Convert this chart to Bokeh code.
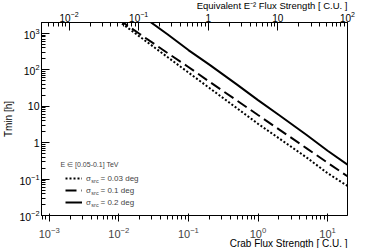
import numpy as np
from bokeh.plotting import figure
from bokeh.models import (Range1d, LogAxis, LogScale, LogTicker, LogTickFormatter,
                          Label, Legend, LegendItem, Title)
from bokeh.embed import file_html
from bokeh.resources import INLINE

# ---- data ----
flux_cu = [0.01, 0.02, 0.05, 0.1, 0.2, 0.5, 1, 2, 5, 10, 20]
tmin_sig003 = [2170, 818, 225, 84.7, 31.9, 8.8, 3.3, 1.32, 0.39, 0.145, 0.062]
tmin_sig01 = [2400, 968, 291, 120, 47.4, 14.3, 5.75, 2.32, 0.70, 0.28, 0.114]
tmin_sig02 = [8800, 3370, 950, 350, 139, 39.3, 14.8, 5.75, 1.62, 0.60, 0.238]

legend_title = "E \u2208 [0.05-0.1] TeV"
legend_values = ["= 0.03 deg", "= 0.1 deg", "= 0.2 deg"]
x_title = "Crab Flux Strength [ C.U. ]"
top_title = "Equivalent E\u207b\u00b2 Flux Strength [ C.U. ]"
y_title = "Tmin [h]"

x_lo, x_hi = 7.76e-4, 19.3
top_factor = 100 / 19.3
y_lo, y_hi = 0.01, 2000

FONT = "Liberation Sans"
W, H = 386, 248
ML, MR, MT, MB = 39, 39, 22, 29

p = figure(width=W, height=H, x_axis_type="log", y_axis_type="log",
           x_range=Range1d(x_lo, x_hi), y_range=Range1d(y_lo, y_hi),
           output_backend="svg", toolbar_location=None,
           min_border_left=ML, min_border_right=MR,
           min_border_top=MT, min_border_bottom=MB)
p.background_fill_color = "white"
p.border_fill_color = "white"
p.outline_line_color = "black"
p.outline_line_width = 1
p.xgrid.visible = False
p.ygrid.visible = False

p.extra_x_ranges = {"top": Range1d(x_lo * top_factor, x_hi * top_factor)}
p.extra_x_scales = {"top": LogScale()}
top_axis = LogAxis(x_range_name="top")
p.add_layout(top_axis, "above")

overrides = {1: "1", 10: "10"}
for ax in [p.xaxis[0], p.yaxis[0], top_axis]:
    ax.ticker = LogTicker(num_minor_ticks=10, desired_num_ticks=6)
    ax.formatter = LogTickFormatter()
    ax.major_label_overrides = overrides
    ax.major_tick_in = 8
    ax.major_tick_out = 0
    ax.minor_tick_in = 4
    ax.minor_tick_out = 0
    ax.axis_line_color = "black"
    ax.major_tick_line_color = "black"
    ax.minor_tick_line_color = "black"
    ax.major_label_text_font = FONT
    ax.major_label_text_font_size = "10.5px"
    ax.major_label_text_color = "black"
    ax.major_label_standoff = 2

top_axis.major_label_text_font_size = "10px"
top_axis.major_label_standoff = 0
p.xaxis[0].major_label_standoff = 1

p.yaxis[0].axis_label = y_title
p.yaxis[0].axis_label_text_font = FONT
p.yaxis[0].axis_label_text_font_style = "normal"
p.yaxis[0].axis_label_text_color = "black"
p.yaxis[0].axis_label_text_font_size = "10px"
p.yaxis[0].axis_label_standoff = 2

t_top = Title(text=top_title, align="right", text_font=FONT,
              text_font_size="9.5px", text_font_style="normal",
              text_color="black", standoff=0, offset=0,
              vertical_align="bottom")
t_bottom = Title(text=x_title, align="right", text_font=FONT,
                 text_font_size="10px", text_font_style="normal",
                 text_color="black", standoff=0, offset=0,
                 vertical_align="top")
try:
    t_top.standoff = -6
except Exception:
    pass
try:
    t_bottom.standoff = -5
except Exception:
    pass
p.add_layout(t_top, "above")
p.add_layout(t_bottom, "below")

r03 = p.line(flux_cu, tmin_sig003, line_color="black", line_width=2, line_dash="2 2")
r1 = p.line(flux_cu, tmin_sig01, line_color="black", line_width=2, line_dash="11 5")
r2 = p.line(flux_cu, tmin_sig02, line_color="black", line_width=2)

legend = Legend(items=[LegendItem(label="\u03c3", renderers=[r03]),
                       LegendItem(label="\u03c3", renderers=[r1]),
                       LegendItem(label="\u03c3", renderers=[r2])],
                location=(24, 7), padding=0, spacing=0, margin=0,
                glyph_width=17, glyph_height=12, label_height=12,
                label_standoff=4, label_text_font=FONT,
                label_text_font_size="8px",
                border_line_alpha=0, background_fill_alpha=0)
p.add_layout(legend)

rows_y = [37, 25, 13]
for yy, txt in zip(rows_y, legend_values):
    p.add_layout(Label(x=49.8, y=yy - 2.5, x_units="screen", y_units="screen",
                       text="src", text_font=FONT, text_font_size="5.5px",
                       text_baseline="middle", text_align="left"))
    p.add_layout(Label(x=59, y=yy, x_units="screen", y_units="screen",
                       text=txt, text_font=FONT, text_font_size="8px",
                       text_baseline="middle", text_align="left"))

p.add_layout(Label(x=19, y=51, x_units="screen", y_units="screen",
                   text=legend_title, text_font=FONT, text_font_size="7px",
                   text_baseline="middle", text_align="left"))

open("out.html", "w").write(file_html(p, INLINE))
